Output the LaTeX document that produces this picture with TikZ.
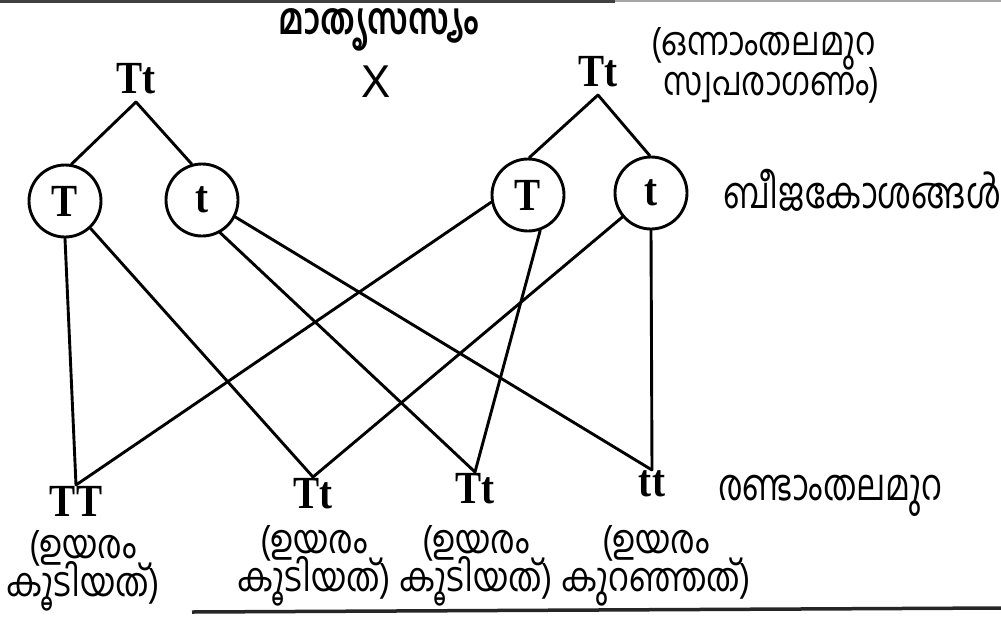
\documentclass[tikz,border=0pt]{standalone}
\usepackage{fontspec}
\usepackage{graphicx}
\setmainfont{Liberation Serif}
\newfontfamily\ml[Script=Malayalam]{Hind Kochi}
\newfontfamily\xsans{Liberation Sans}
\newcommand{\gtxt}[1]{{\fontsize{46}{46}\selectfont\bfseries\scalebox{0.85}[1]{#1}}}
\newcommand{\mlt}[1]{\scalebox{0.92}[1.2]{#1}}
\newcommand{\mltwo}[2]{\scalebox{0.92}[1.1]{\vbox{\baselineskip=34pt\lineskiplimit=-200pt\halign{\hfil##\hfil\cr#1\cr#2\cr}}}}
\newcommand{\mltwol}[2]{\scalebox{0.9}[1.1]{\vbox{\baselineskip=36pt\lineskiplimit=-200pt\halign{##\hfil\cr#1\cr#2\cr}}}}
\tikzset{
  link/.style={line width=2.9pt, line cap=round},
  gamete/.style={circle, draw, line width=2.9pt, minimum size=72pt, inner sep=0pt},
  parent/.style={inner sep=0pt, outer ysep=8pt, anchor=south},
  child/.style={inner sep=0pt, outer ysep=1pt, anchor=north},
  mltext/.style={font=\ml\fontsize{36}{31}\selectfont, inner sep=0pt},
}
\begin{document}
\begin{tikzpicture}[x=1pt,y=-1pt]
\useasboundingbox (0,0) rectangle (1001,619);
% scan borders
\draw[line width=3pt, black!75] (0,1) -- (615,1);
\draw[line width=1.5pt, black!35] (615,1) -- (1001,1);
\draw[line width=3.5pt, black!85] (192,612) -- (1001,608);
% parents
\node[parent] (P1) at (136,102) {\gtxt{Tt}};
\node[parent] (P2) at (598,95) {\gtxt{Tt}};
\node[font=\xsans\fontsize{46}{46}\selectfont, inner sep=0pt] (X) at (376,82) {\scalebox{0.95}[1]{X}};
% gametes
\node[gamete] (g1) at (65,201) {\gtxt{T}};
\node[gamete] (g2) at (202,200) {\gtxt{t}};
\node[gamete] (g3) at (528,195) {\gtxt{T}};
\node[gamete] (g4) at (651,193) {\gtxt{t}};
% offspring
\node[child] (c1) at (76,485) {\gtxt{TT}};
\node[child] (c2) at (313,477) {\gtxt{Tt}};
\node[child] (c3) at (475,472) {\gtxt{Tt}};
\node[child] (c4) at (652,470) {\gtxt{tt}};
% parent to gamete links
\draw[link] (P1.south) -- (g1.80);
\draw[link] (P1.south) -- (g2.106);
\draw[link] (P2.south) -- (g3.88);
\draw[link] (P2.south) -- (g4.92);
% gamete to offspring links
\draw[link] (g1.270) -- (c1.north);
\draw[link] (g1.-47) -- (c2.north);
\draw[link] (g2.-61) -- (c3.north);
\draw[link] (g2.-27) -- (c4.north);
\draw[link] (g3.191) -- (c1.north);
\draw[link] (g3.-71) -- (c3.north);
\draw[link] (g4.220) -- (c2.north);
\draw[link] (g4.270) -- (c4.north);
% Malayalam labels
\node[mltext, font=\ml\bfseries\fontsize{36}{31}\selectfont] (title) at (379,30) {\mlt{മാതൃസസ്യം}};
\node[mltext, anchor=base west] (gen1) at (651,95) {\mltwol{(ഒന്നാംതലമുറ}{\hspace*{14pt}സ്വപരാഗണം)}};
\node[mltext, anchor=west] (gam) at (723,190) {\mlt{ബീജകോശങ്ങൾ}};
\node[mltext, anchor=west] (gen2) at (718,496) {\mlt{രണ്ടാംതലമുറ}};
\node[mltext, anchor=base] (l1) at (83,596) {\mltwo{(ഉയരം}{കൂടിയത്)}};
\node[mltext, anchor=base] (l2) at (314,591) {\mltwo{(ഉയരം}{കൂടിയത്)}};
\node[mltext, anchor=base] (l3) at (476,591) {\mltwo{(ഉയരം}{കൂടിയത്)}};
\node[mltext, anchor=base] (l4) at (656,591) {\mltwo{(ഉയരം}{കുറഞ്ഞത്)}};
\end{tikzpicture}
\end{document}
